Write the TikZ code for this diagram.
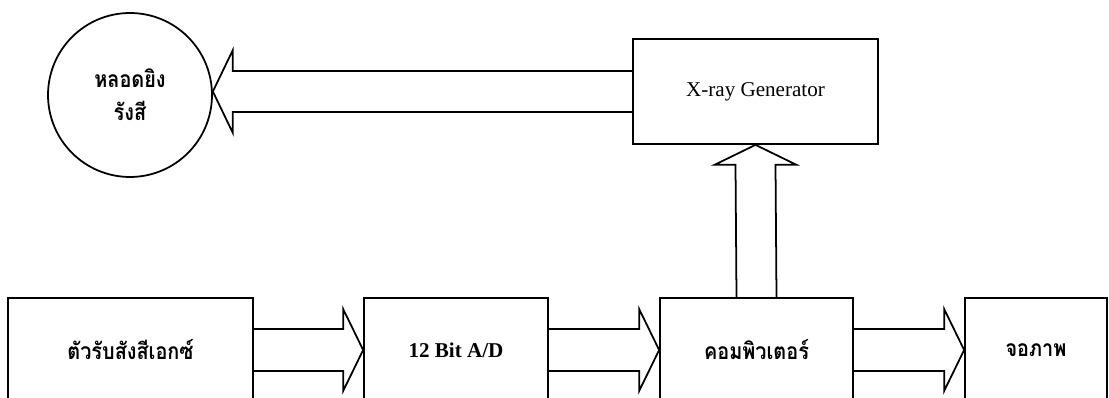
\documentclass[tikz,border=0pt]{standalone}
\usepackage{fontspec}
\usepackage{tikz}
\usetikzlibrary{calc}
\setmainfont{Liberation Serif}
\newfontfamily\thaifont[Script=Thai, FakeStretch=0.87]{Loma}

\begin{document}
\begin{tikzpicture}[
    x=0.02cm, y=0.02cm,
    box/.style={rectangle, draw, line width=1pt, inner sep=0pt, minimum height=2.08cm},
    thaitext/.style={font=\thaifont\bfseries\fontsize{13}{19}\selectfont},
    hollow/.style={draw, line width=1pt, line join=miter}
]
\useasboundingbox (0,0) rectangle (1109,398);
\clip (0,0) rectangle (1109,398);

\node[circle, draw, line width=1pt, minimum size=3.28cm, align=center, thaitext] (tube) at (130,303) {หลอดยิง\\รังสี};
\node[box, minimum width=4.9cm, minimum height=2.1cm, font=\fontsize{12}{14}\selectfont] (gen) at (755.5,306.5) {X-ray Generator};

\node[box, minimum width=4.9cm, thaitext]  (det)  at (130.5,48) {ตัวรับสังสีเอกซ์};
\node[box, minimum width=3.68cm, font=\bfseries\fontsize{12}{14}\selectfont] (adc) at (456,48) {12 Bit A/D};
\node[box, minimum width=3.86cm, thaitext] (comp) at (756.5,48) {คอมพิวเตอร์};
\node[box, minimum width=2.84cm, thaitext] (disp) at (1036,48) {จอภาพ};

% wide hollow arrows along the bottom row
\foreach \a/\b in {det/adc, adc/comp, comp/disp}
  \draw[hollow] ($(\a.east)+(0,21)$) -- ($(\b.west)+(-20,21)$) -- ($(\b.west)+(-20,41)$)
    -- (\b.west) -- ($(\b.west)+(-20,-41)$) -- ($(\b.west)+(-20,-21)$) -- ($(\a.east)+(0,-21)$);

% computer up to generator
\draw[hollow] ($(comp.north)+(-20,0)$) -- ($(gen.south)+(-20,-20)$) -- ($(gen.south)+(-41,-20)$)
  -- (gen.south) -- ($(gen.south)+(41,-20)$) -- ($(gen.south)+(20,-20)$) -- ($(comp.north)+(20,0)$);

% generator to tube
\coordinate (tip) at (gen.west -| tube.east);
\draw[hollow] ($(gen.west)+(0,20.5)$) -- ($(tip)+(20,20.5)$) -- ($(tip)+(20,41.5)$)
  -- (tip) -- ($(tip)+(20,-41.5)$) -- ($(tip)+(20,-20.5)$) -- ($(gen.west)+(0,-20.5)$);
\end{tikzpicture}
\end{document}
